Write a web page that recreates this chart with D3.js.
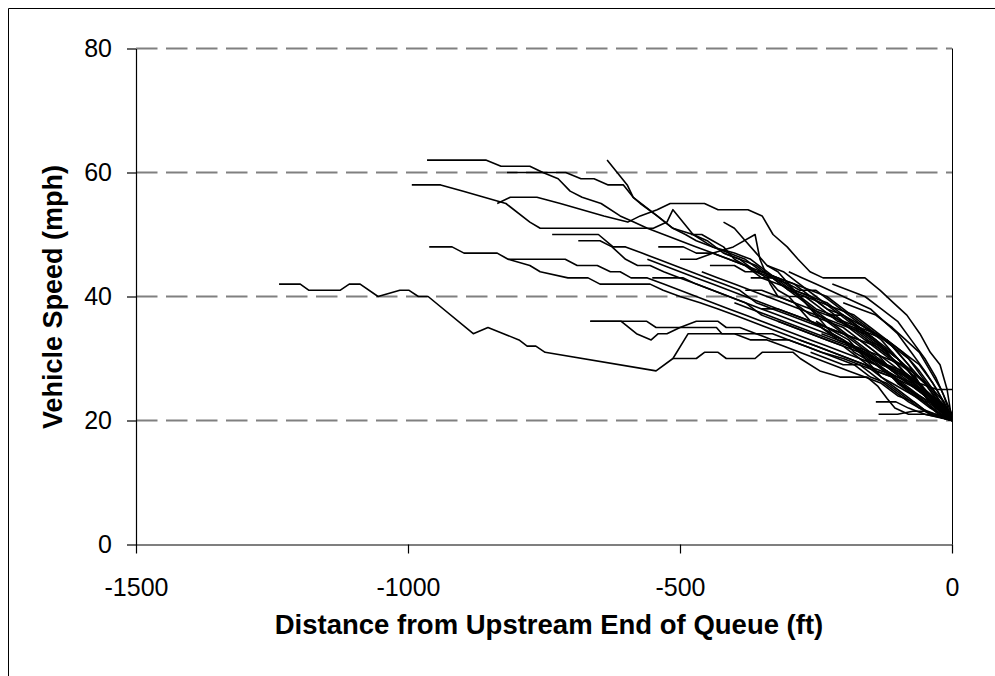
<!DOCTYPE html>
<html>
<head>
<meta charset="utf-8">
<script src="https://cdn.jsdelivr.net/npm/d3@7/dist/d3.min.js"></script>
<style>
  html, body { margin: 0; padding: 0; background: #fff; }
  svg { display: block; }
</style>
</head>
<body>
<svg id="chart" width="995" height="676"></svg>
<script>
// ---- data: each vehicle trajectory as [distance ft, speed mph] ----
const v01 = [[-1237,42],[-1198,42],[-1182,41],[-1125,41],[-1108,42],[-1088,42],[-1055,40],[-1015,41],[-998,41],[-981,40],[-963,40],[-880,34],[-853,35],[-796,33],[-781,32],[-765,32],[-748,31],[-544,28],[-513,30],[-485,34],[-440,34],[-400,34],[-360,34],[-330,33],[-300,33],[-270,32],[-240,31],[-200,30],[-170,29],[-140,27],[-110,25],[-80,23],[-40,21],[0,20]];
const v02 = [[-965,62],[-925,62],[-890,62],[-857,62],[-829,61],[-800,61],[-776,61],[-752,60],[-724,59],[-702,57],[-680,56],[-645,55],[-610,53],[-585,52],[-560,51],[-530,50],[-500,49],[-470,48],[-440,47],[-410,46],[-380,45],[-350,43],[-320,42],[-290,41],[-260,40],[-230,38],[-200,37],[-170,35],[-140,33],[-110,31],[-80,28],[-50,25],[-20,22],[0,20]];
const v03 = [[-993,58],[-965,58],[-940,58],[-900,57],[-860,56],[-820,55],[-776,52],[-757,51],[-700,51],[-650,51],[-600,51],[-549,51],[-524,52],[-513,54],[-476,50],[-450,49],[-420,47],[-390,46],[-360,44],[-330,43],[-300,41],[-270,40],[-240,38],[-210,36],[-180,35],[-150,33],[-120,31],[-90,28],[-60,25],[-30,22],[0,20]];
const v04 = [[-836,55],[-812,56],[-763,56],[-720,55],[-680,54],[-640,53],[-596,52],[-573,53],[-542,54],[-518,55],[-478,55],[-455,55],[-430,54],[-390,54],[-375,54],[-349,53],[-329,50],[-303,48],[-283,46],[-261,44],[-237,43],[-200,43],[-160,43],[-132,41],[-108,39],[-83,37],[-59,34],[-40,31],[-22,29],[-9,25],[0,20]];
const v05 = [[-961,48],[-940,48],[-919,48],[-897,47],[-870,47],[-836,47],[-816,46],[-790,46],[-760,46],[-711,46],[-689,45],[-652,45],[-628,44],[-610,44],[-590,43],[-560,43],[-530,42],[-500,41],[-470,40],[-440,39],[-410,38],[-380,37],[-350,36],[-320,35],[-290,34],[-260,33],[-230,32],[-200,31],[-170,30],[-140,28],[-110,27],[-80,25],[-50,23],[-25,21],[0,20]];
const v06 = [[-818,60],[-780,60],[-745,60],[-710,60],[-682,59],[-658,59],[-632,58],[-604,58],[-586,56],[-542,53],[-513,51],[-476,50],[-440,48],[-410,47],[-380,46],[-350,44],[-320,43],[-290,41],[-260,40],[-230,38],[-200,36],[-170,34],[-140,32],[-110,30],[-80,27],[-50,24],[-20,22],[0,20]];
const v07 = [[-634,62],[-597,58],[-586,56],[-573,55],[-542,53],[-513,51],[-490,50],[-470,49],[-440,48],[-400,47],[-370,46],[-340,44],[-310,42],[-280,40],[-250,38],[-220,37],[-190,35],[-160,33],[-130,31],[-100,29],[-70,26],[-40,23],[0,20]];
const v08 = [[-735,50],[-700,50],[-670,50],[-650,50],[-623,48],[-600,48],[-570,47],[-540,46],[-510,45],[-480,44],[-450,43],[-420,42],[-390,41],[-360,39],[-330,38],[-300,37],[-270,36],[-240,35],[-210,33],[-180,32],[-150,30],[-120,28],[-90,26],[-60,24],[-30,22],[0,20]];
const v09 = [[-687,49],[-660,49],[-647,49],[-625,48],[-600,46],[-578,45],[-555,45],[-530,44],[-500,43],[-470,42],[-440,41],[-410,40],[-380,39],[-350,37],[-320,36],[-290,35],[-260,34],[-230,33],[-200,32],[-170,30],[-140,29],[-110,27],[-80,25],[-50,23],[-20,21],[0,20]];
const v10 = [[-540,48],[-510,48],[-494,48],[-470,47],[-440,47],[-410,46],[-380,45],[-350,44],[-320,43],[-290,42],[-260,40],[-230,39],[-200,37],[-170,35],[-140,33],[-110,30],[-80,27],[-50,24],[-25,22],[0,20]];
const v11 = [[-445,45],[-420,45],[-400,45],[-380,44],[-350,44],[-320,43],[-290,42],[-260,41],[-230,40],[-200,38],[-170,36],[-140,34],[-110,32],[-80,29],[-50,26],[-25,23],[0,20]];
const v12 = [[-551,43],[-520,43],[-494,43],[-470,42],[-440,41],[-410,40],[-380,39],[-350,38],[-320,37],[-290,36],[-260,35],[-230,34],[-200,33],[-170,31],[-140,29],[-110,27],[-80,25],[-50,23],[-20,21],[0,20]];
const v13 = [[-665,36],[-630,36],[-600,36],[-561,36],[-544,35],[-510,35],[-480,35],[-450,35],[-433,35],[-423,34],[-400,34],[-370,33],[-340,33],[-310,32],[-280,31],[-250,30],[-220,29],[-190,28],[-160,27],[-130,26],[-100,24],[-70,23],[-40,21],[0,20]];
const v14 = [[-665,36],[-636,36],[-608,36],[-580,34],[-553,33],[-540,34],[-524,34],[-500,35],[-470,36],[-445,36],[-430,36],[-415,35],[-390,35],[-360,34],[-330,34],[-300,33],[-270,32],[-240,31],[-210,30],[-180,29],[-150,27],[-120,26],[-90,24],[-60,22],[-30,21],[0,20]];
const v15 = [[-513,30],[-470,30],[-455,31],[-430,31],[-415,30],[-390,30],[-362,30],[-349,31],[-292,31],[-279,30],[-243,28],[-206,27],[-156,27],[-136,25.5],[-119,23.5],[-105,22],[-80,21],[-50,21],[0,20]];
const v16 = [[-140,23],[-120,23],[-103,23],[-80,22],[-50,21],[-20,20.5],[0,20]];
const v17 = [[-135,21],[-118,21],[-100,21],[-72,21.5],[-50,21.5],[-30,21],[0,20]];
const v18 = [[-210,33],[-180,32],[-150,30],[-120,29],[-90,28],[-60,26],[-28,25],[0,25]];
const v19 = [[-460,44],[-430,43],[-400,42],[-370,41],[-340,40],[-310,39],[-280,38],[-250,37],[-220,36],[-190,35],[-160,34],[-130,32],[-100,30],[-70,27],[-40,24],[-15,22],[0,20]];
const v20 = [[-420,47],[-390,46],[-360,45],[-330,43],[-300,41],[-270,39],[-240,37],[-210,35],[-180,33],[-150,31],[-120,29],[-90,27],[-60,25],[-30,23],[0,20]];
const v21 = [[-500,46],[-470,46],[-439,47],[-402,48],[-362,50],[-353,46],[-334,42],[-320,40],[-290,39],[-260,37],[-230,36],[-200,34],[-170,33],[-140,31],[-110,29],[-80,27],[-50,24],[-25,22],[0,20]];
const v22 = [[-380,41],[-350,41],[-320,40],[-290,39],[-260,38],[-230,36],[-200,35],[-170,33],[-140,31],[-110,28],[-80,26],[-50,24],[-25,22],[0,20]];
const v23 = [[-350,38],[-320,38],[-290,37],[-260,36],[-230,35],[-200,34],[-170,33],[-140,32],[-110,30],[-80,28],[-50,25],[-25,23],[0,20]];
const v24 = [[-300,40],[-270,40],[-240,39],[-210,38],[-180,37],[-150,35],[-120,33],[-90,31],[-60,28],[-35,25],[-15,22],[0,20]];
const v25 = [[-400,39],[-370,38],[-340,37],[-310,36],[-280,35],[-250,34],[-220,33],[-190,32],[-160,31],[-130,29],[-100,28],[-70,26],[-40,24],[-20,22],[0,20]];
const v26 = [[-320,36],[-290,35],[-260,34],[-230,33],[-200,32],[-170,31],[-140,30],[-110,28],[-80,27],[-50,25],[-25,23],[0,20]];
const v27 = [[-260,38],[-230,37],[-200,36],[-170,35],[-140,34],[-110,32],[-80,30],[-55,27],[-30,24],[-12,22],[0,20]];
const v28 = [[-280,33],[-250,32],[-220,31],[-190,30],[-160,29],[-130,28],[-100,27],[-70,26],[-40,24],[-20,22],[0,20]];
const v29 = [[-240,34],[-210,33],[-180,32],[-150,31],[-120,30],[-90,29],[-60,27],[-35,25],[-15,23],[0,20]];
const v30 = [[-220,42],[-190,41],[-160,40],[-130,38],[-100,36],[-75,33],[-50,30],[-30,27],[-15,24],[0,20]];
const v31 = [[-200,39],[-170,38],[-140,37],[-110,35],[-85,33],[-60,31],[-40,28],[-20,25],[0,21]];
const v32 = [[-180,35],[-150,34],[-120,33],[-90,31],[-60,29],[-35,26],[-15,23],[0,20]];
const v33 = [[-160,33],[-130,32],[-100,30],[-75,28],[-50,26],[-25,23],[0,21]];
const v34 = [[-150,30],[-125,29],[-100,28],[-75,27],[-50,25],[-25,23],[0,21]];
const v35 = [[-340,45],[-310,44],[-280,42],[-250,40],[-220,38],[-190,36],[-160,34],[-130,32],[-100,30],[-70,27],[-45,24],[-20,22],[0,20]];
const v36 = [[-300,44],[-275,43],[-250,42],[-225,41],[-200,40],[-175,39],[-150,38],[-125,36],[-100,34],[-75,31],[-50,28],[-28,25],[-10,22],[0,20]];
const v37 = [[-120,28],[-100,27],[-80,26],[-60,25],[-40,24],[-20,23],[0,21]];
const v38 = [[-100,26],[-80,25],[-60,24],[-40,23],[-20,22],[0,20]];
const v39 = [[-260,31],[-230,30],[-200,29],[-170,29],[-140,28],[-110,27],[-85,26],[-60,25],[-40,24],[-20,22],[0,20]];
const v40 = [[-560,46],[-530,45],[-500,44],[-470,43],[-440,42],[-410,41],[-380,40],[-350,39],[-320,38],[-290,37],[-260,36],[-230,35],[-200,34],[-170,32],[-140,30],[-110,28],[-80,26],[-50,24],[-25,22],[0,20]];
const v41 = [[-816,46],[-776,45],[-757,44],[-706,43],[-669,43],[-647,42],[-555,42],[-531,41],[-500,40],[-463,39],[-430,38],[-400,37],[-370,36],[-340,35],[-310,34],[-280,33],[-250,32],[-220,31],[-190,30],[-160,29],[-130,27],[-100,25],[-70,23],[-40,21],[0,20]];
const v42 = [[-420,52],[-400,51],[-380,49],[-360,47],[-340,45],[-320,44],[-300,42],[-280,40],[-260,38],[-240,36],[-220,34],[-200,33],[-180,32],[-160,31],[-140,30],[-120,29],[-100,28],[-80,27],[-60,26],[-40,24],[-20,22],[0,20]];
const v43 = [[-480,50],[-460,50],[-440,49],[-420,48],[-400,46],[-380,45],[-360,44],[-340,43],[-320,41],[-300,40],[-280,38],[-260,36],[-240,35],[-220,34],[-200,33],[-180,31],[-160,30],[-140,29],[-120,28],[-100,26],[-70,24],[-40,22],[0,20]];
const v44 = [[-250,36],[-230,35],[-210,34],[-190,33],[-170,31],[-150,29],[-130,27],[-110,26],[-90,25],[-70,24],[-50,23],[-30,23],[-10,22],[0,20]];
const v45 = [[-370,43],[-350,43],[-330,43],[-300,42],[-280,41],[-250,41],[-220,39],[-190,37],[-160,35],[-130,33],[-110,31],[-90,29],[-70,27],[-50,25],[-30,23],[0,20]];
const v46 = [[-230,37],[-200,37],[-180,36],[-160,35],[-140,34],[-120,33],[-100,31],[-80,29],[-60,26],[-40,24],[-20,22],[0,20]];

const vehicles = [v01,v02,v03,v04,v05,v06,v07,v08,v09,v10,v11,v12,v13,v14,v15,v16,v17,v18,v19,v20,
                  v21,v22,v23,v24,v25,v26,v27,v28,v29,v30,v31,v32,v33,v34,v35,v36,v37,v38,v39,v40,
                  v41,v42,v43,v44,v45,v46];

const xTicks = [-1500, -1000, -500, 0];
const yTicks = [0, 20, 40, 60, 80];
const gridValues = [20, 40, 60, 80];
const xTitle = "Distance from Upstream End of Queue (ft)";
const yTitle = "Vehicle Speed (mph)";

// ---- drawing ----
const svg = d3.select("#chart");
const FONT = "'Liberation Sans', Arial, Helvetica, sans-serif";

const x = d3.scaleLinear().domain([-1500, 0]).range([136, 952]);
const y = d3.scaleLinear().domain([0, 80]).range([544.5, 48.5]);

// outer frame (left and top edges visible)
svg.append("path")
  .attr("d", "M8.5,676 V8.5 H995")
  .attr("fill", "none").attr("stroke", "#000").attr("stroke-width", 1);

// gridlines
svg.append("g").selectAll("line").data(gridValues).join("line")
  .attr("x1", x(-1500)).attr("x2", x(0))
  .attr("y1", d => y(d)).attr("y2", d => y(d))
  .attr("stroke", "#808080").attr("stroke-width", 2)
  .attr("stroke-dasharray", "21.5,8.5");

// right border of plot area
svg.append("line")
  .attr("x1", x(0) + 0.5).attr("x2", x(0) + 0.5)
  .attr("y1", y(80)).attr("y2", y(0))
  .attr("stroke", "#000").attr("stroke-width", 1);

// vehicle lines
const line = d3.line().x(d => x(d[0])).y(d => y(d[1]));
svg.append("g").selectAll("path").data(vehicles).join("path")
  .attr("d", line)
  .attr("fill", "none")
  .attr("stroke", "#000")
  .attr("stroke-width", 1.6)
  .attr("stroke-linejoin", "round");

// axes
const fmt = d => String(d);
const yAxis = svg.append("g").attr("transform", "translate(136,0)")
  .call(d3.axisLeft(y).tickValues(yTicks).tickFormat(fmt).tickSize(9).tickSizeOuter(0).tickPadding(15));
const xAxis = svg.append("g").attr("transform", "translate(0,544.5)")
  .call(d3.axisBottom(x).tickValues(xTicks).tickFormat(fmt).tickSize(9).tickSizeOuter(0).tickPadding(25));

[yAxis, xAxis].forEach(g => {
  g.select(".domain").attr("stroke", "#000").attr("stroke-width", 1.2);
  g.selectAll(".tick line").attr("stroke", "#000").attr("stroke-width", 1.2);
  g.selectAll(".tick text").attr("fill", "#000")
    .style("font-family", FONT).style("font-size", "25px");
});

// titles
svg.append("text")
  .attr("x", 549).attr("y", 634)
  .attr("text-anchor", "middle")
  .style("font-family", FONT).style("font-size", "27.5px").style("font-weight", "bold")
  .text(xTitle);

svg.append("text")
  .attr("transform", "translate(62,297) rotate(-90)")
  .attr("text-anchor", "middle")
  .style("font-family", FONT).style("font-size", "27px").style("font-weight", "bold")
  .text(yTitle);
</script>
</body>
</html>
